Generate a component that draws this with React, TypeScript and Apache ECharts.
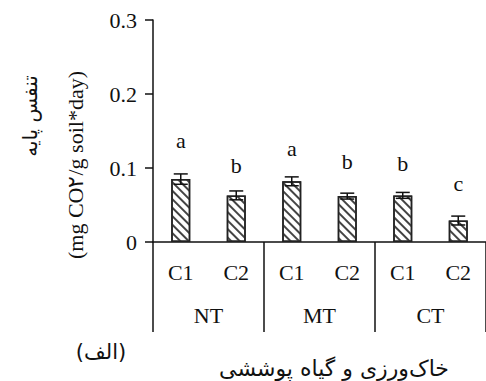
import React, { useEffect, useRef } from "react";
import * as echarts from "echarts";

const categories = ["C1", "C2", "C1", "C2", "C1", "C2"];
const groups = ["NT", "MT", "CT"];
const values = [0.085, 0.063, 0.082, 0.062, 0.063, 0.029];
const errors = [0.007, 0.006, 0.006, 0.004, 0.004, 0.006];
const letters = ["a", "b", "a", "b", "b", "c"];
const letterY = [0.137, 0.103, 0.126, 0.109, 0.106, 0.079];
const yTicks = { min: 0, max: 0.3, interval: 0.1 };

const serif = "'Liberation Serif', 'Times New Roman', serif";
const fa = "'DejaVu Sans', sans-serif";
const ink = "#111";
const fs = 22;

export default function App() {
  const ref = useRef<HTMLDivElement>(null);
  useEffect(() => {
    if (!ref.current) return;
    const chart = echarts.init(ref.current, undefined, { renderer: "svg" });
    chart.setOption({
      animation: false,
      backgroundColor: "#fff",
      grid: { left: 153, top: 20, width: 338, bottom: 139 },
      xAxis: [
        {
          type: "category",
          data: categories,
          position: "bottom",
          axisLine: { show: true, lineStyle: { color: ink, width: 1.5 } },
          axisTick: { show: false },
          axisLabel: { fontFamily: serif, fontSize: fs, color: ink, margin: 19 },
        },
        {
          type: "category",
          data: groups,
          position: "bottom",
          axisLine: { show: false },
          axisTick: { show: true, length: 90, lineStyle: { color: ink, width: 1.5 } },
          axisLabel: { fontFamily: serif, fontSize: fs, color: ink, margin: 62 },
        },
      ],
      yAxis: {
        type: "value",
        min: yTicks.min,
        max: yTicks.max,
        interval: yTicks.interval,
        axisLine: { show: true, lineStyle: { color: ink, width: 1.5 } },
        axisTick: { show: true, length: 8, lineStyle: { color: ink, width: 1.5 } },
        splitLine: { show: false },
        axisLabel: { fontFamily: serif, fontSize: fs, color: ink, margin: 16 },
      },
      series: [
        {
          type: "bar",
          xAxisIndex: 0,
          data: values,
          barWidth: 19,
          itemStyle: {
            color: "#fff",
            borderColor: "#222",
            borderWidth: 1.5,
            decal: {
              symbol: "rect",
              symbolSize: 1,
              dashArrayX: [1, 0],
              dashArrayY: [1.6, 3.2],
              rotation: Math.PI / 4,
              color: "#444",
            },
          },
        },
        {
          type: "custom",
          xAxisIndex: 0,
          data: values.map((v, i) => [i, v - errors[i], v + errors[i]]),
          renderItem: (params: any, api: any) => {
            const i = api.value(0);
            const lo = api.coord([i, api.value(1)]);
            const hi = api.coord([i, api.value(2)]);
            const w = 7;
            const st = { stroke: ink, lineWidth: 1.5 };
            return {
              type: "group",
              children: [
                { type: "line", shape: { x1: lo[0], y1: lo[1], x2: hi[0], y2: hi[1] }, style: st },
                { type: "line", shape: { x1: hi[0] - w, y1: hi[1], x2: hi[0] + w, y2: hi[1] }, style: st },
                { type: "line", shape: { x1: lo[0] - w, y1: lo[1], x2: lo[0] + w, y2: lo[1] }, style: st },
              ],
            };
          },
          z: 5,
        },
        {
          type: "custom",
          xAxisIndex: 0,
          data: letterY.map((v, i) => [i, v]),
          renderItem: (params: any, api: any) => {
            const i = api.value(0);
            const p = api.coord([i, api.value(1)]);
            return {
              type: "text",
              x: p[0],
              y: p[1],
              style: {
                text: letters[params.dataIndex],
                fontFamily: serif,
                fontSize: fs,
                fill: ink,
                textAlign: "center",
                textVerticalAlign: "middle",
              },
            };
          },
        },
      ],
      graphic: [
        {
          type: "text",
          x: 30,
          y: 116,
          rotation: Math.PI / 2,
          style: {
            text: "تنفس پایه",
            fontFamily: fa,
            fontSize: 20,
            fill: ink,
            textAlign: "center",
            textVerticalAlign: "middle",
          },
        },
        {
          type: "text",
          x: 75,
          y: 165,
          rotation: Math.PI / 2,
          style: {
            text: "(mg CO۲/g soil*day)",
            fontFamily: serif,
            fontSize: fs,
            fill: ink,
            textAlign: "center",
            textVerticalAlign: "middle",
          },
        },
        {
          type: "text",
          x: 101,
          y: 352,
          style: {
            text: "(الف)",
            fontFamily: fa,
            fontSize: 21,
            fill: ink,
            textAlign: "center",
            textVerticalAlign: "middle",
          },
        },
        {
          type: "text",
          x: 334,
          y: 368,
          style: {
            text: "خاک‌ورزی و گیاه پوششی",
            fontFamily: fa,
            fontSize: 22,
            fill: ink,
            textAlign: "center",
            textVerticalAlign: "middle",
          },
        },
      ],
    });
    return () => chart.dispose();
  }, []);
  return (
    <div
      ref={ref}
      style={{ position: "fixed", left: 0, top: 0, width: 486, height: 381 }}
    />
  );
}
